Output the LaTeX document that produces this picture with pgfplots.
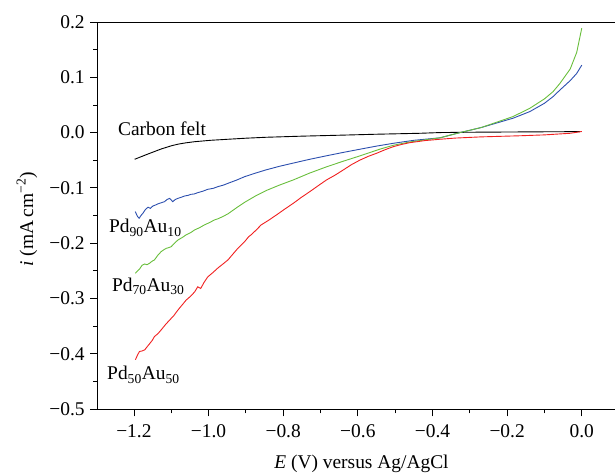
\documentclass[border=0pt]{standalone}
\usepackage{pgfplots}
\pgfplotsset{compat=1.18}
\usepackage{fontspec}
\setmainfont{Liberation Serif}
\definecolor{cblue}{HTML}{2C4FAE}
\definecolor{cgreen}{HTML}{69BE3C}
\definecolor{cred}{HTML}{F02020}
\newcommand{\fs}{\fontsize{19.5}{22}\selectfont}
\begin{document}
\begin{tikzpicture}
\begin{axis}[
  name=ax,
  scale only axis,
  width=517.3bp, height=387bp,
  xmin=-1.297, xmax=0.089,
  ymin=-0.5, ymax=0.2,
  axis x line*=box, axis y line*=left,
  xtick pos=bottom, ytick pos=left,
  tick align=outside,
  major tick length=7.5bp, minor tick length=4.5bp,
  xtick={-1.2,-1.0,-0.8,-0.6,-0.4,-0.2,0},
  xticklabels={−1.2,−1.0,−0.8,−0.6,−0.4,−0.2,0.0},
  minor xtick={-1.1,-0.9,-0.7,-0.5,-0.3,-0.1},
  ytick={-0.5,-0.4,-0.3,-0.2,-0.1,0,0.1,0.2},
  yticklabels={−0.5,−0.4,−0.3,−0.2,−0.1,0.0,0.1,0.2},
  minor ytick={-0.45,-0.35,-0.25,-0.15,-0.05,0.05,0.15},
  tick style={black, line width=0.8bp},
  axis line style={black, line width=0.9bp},
  ticklabel style={font=\fs},
  xticklabel style={yshift=-5bp},
  yticklabel style={xshift=-2bp},
  label style={font=\fs},
  xlabel={\textit{E} (V) versus Ag/AgCl},
  xlabel style={at={(axis description cs:0.51,-0.153)}, anchor=base},
  ylabel={\textit{i} (mA\,cm\textsuperscript{−2})},
  ylabel style={at={(axis description cs:-0.137,0.49)}, anchor=center},
  every axis plot/.append style={line width=0.9bp},
  clip=false,
]
% Carbon felt
\addplot[black] coordinates {
(-1.198,-0.0483) (-1.162,-0.0387) (-1.127,-0.0297) (-1.100,-0.0240) (-1.082,-0.0210) (-1.060,-0.0185) (-1.037,-0.0165)
(-0.995,-0.0140) (-0.948,-0.0121) (-0.900,-0.0102) (-0.846,-0.0085) (-0.75,-0.0065) (-0.65,-0.0048) (-0.55,-0.0030)
(-0.434,-0.0013) (-0.38,0.0) (-0.3,0.0006) (-0.2,0.0010) (-0.1,0.0014) (-0.005,0.0017)};
% Pd90Au10
\addplot[cblue] coordinates {
(-1.1965,-0.143) (-1.190,-0.152) (-1.186,-0.155) (-1.181,-0.150) (-1.176,-0.146) (-1.169,-0.139)
(-1.162,-0.135) (-1.156,-0.137) (-1.149,-0.1328) (-1.142,-0.131) (-1.136,-0.129) (-1.127,-0.127)
(-1.118,-0.125) (-1.111,-0.121) (-1.104,-0.119) (-1.096,-0.125) (-1.089,-0.121) (-1.082,-0.119)
(-1.073,-0.117) (-1.064,-0.1147) (-1.055,-0.1136) (-1.047,-0.1117) (-1.038,-0.111) (-1.029,-0.1087)
(-1.015,-0.106) (-1.002,-0.1026) (-0.988,-0.101) (-0.975,-0.0978) (-0.960,-0.095) (-0.948,-0.0918)
(-0.925,-0.086) (-0.903,-0.0797) (-0.875,-0.0735) (-0.846,-0.0675) (-0.81,-0.061) (-0.773,-0.0552)
(-0.73,-0.0485) (-0.684,-0.0420) (-0.64,-0.0360) (-0.595,-0.0302) (-0.55,-0.0245) (-0.505,-0.0194)
(-0.45,-0.0140) (-0.38,-0.0095) (-0.326,0.0) (-0.27,0.009) (-0.184,0.026) (-0.139,0.038)
(-0.1,0.053) (-0.077,0.065) (-0.0585,0.077) (-0.031,0.094) (-0.0136,0.107) (0,0.122)};
% Pd70Au30
\addplot[cgreen] coordinates {
(-1.196,-0.2545) (-1.190,-0.250) (-1.185,-0.247) (-1.178,-0.240) (-1.171,-0.2377) (-1.165,-0.239)
(-1.158,-0.2364) (-1.152,-0.233) (-1.145,-0.2304) (-1.136,-0.222) (-1.127,-0.2154) (-1.120,-0.212)
(-1.113,-0.2093) (-1.106,-0.208) (-1.1,-0.2064) (-1.091,-0.200) (-1.082,-0.1943) (-1.071,-0.190)
(-1.06,-0.185) (-1.048,-0.181) (-1.037,-0.176) (-1.024,-0.172) (-1.011,-0.167) (-0.998,-0.163)
(-0.984,-0.158) (-0.975,-0.156) (-0.962,-0.152) (-0.948,-0.147) (-0.925,-0.136) (-0.903,-0.126)
(-0.875,-0.115) (-0.846,-0.105) (-0.81,-0.095) (-0.773,-0.0857) (-0.73,-0.0735) (-0.684,-0.0620)
(-0.64,-0.0520) (-0.595,-0.0423) (-0.541,-0.0300) (-0.505,-0.0230) (-0.461,-0.0170) (-0.38,-0.0095)
(-0.326,0.0) (-0.27,0.009) (-0.184,0.029) (-0.139,0.044) (-0.1,0.061) (-0.077,0.074)
(-0.0585,0.089) (-0.031,0.115) (-0.0136,0.145) (0,0.189)};
% Pd50Au50
\addplot[cred] coordinates {
(-1.196,-0.411) (-1.190,-0.402) (-1.185,-0.396) (-1.178,-0.395) (-1.171,-0.393) (-1.164,-0.387)
(-1.158,-0.382) (-1.151,-0.376) (-1.145,-0.369) (-1.136,-0.364) (-1.127,-0.357) (-1.115,-0.347)
(-1.104,-0.339) (-1.093,-0.331) (-1.082,-0.321) (-1.071,-0.312) (-1.06,-0.303) (-1.048,-0.296)
(-1.037,-0.288) (-1.029,-0.279) (-1.021,-0.282) (-1.012,-0.271) (-1.002,-0.261) (-0.988,-0.253)
(-0.975,-0.245) (-0.962,-0.238) (-0.948,-0.2304) (-0.935,-0.220) (-0.921,-0.209) (-0.903,-0.197)
(-0.892,-0.188) (-0.886,-0.185) (-0.872,-0.176) (-0.859,-0.167) (-0.84,-0.159) (-0.818,-0.149)
(-0.795,-0.138) (-0.773,-0.128) (-0.751,-0.117) (-0.729,-0.107) (-0.706,-0.096) (-0.684,-0.0857)
(-0.661,-0.077) (-0.639,-0.0676) (-0.617,-0.058) (-0.595,-0.0500) (-0.572,-0.0430) (-0.55,-0.0375) (-0.527,-0.0310) (-0.505,-0.0255)
(-0.483,-0.0215) (-0.461,-0.0183) (-0.42,-0.0145) (-0.38,-0.0121) (-0.34,-0.0100) (-0.27,-0.0078) (-0.166,-0.0058) (-0.1,-0.0042)
(-0.0315,-0.0013) (-0.0136,0.0005) (0,0.002)};
\node[font=\fs, anchor=base west, inner sep=0pt] at (axis cs:-1.243,-0.005) {Carbon felt};
\node[font=\fs, anchor=base west, inner sep=0pt] at (axis cs:-1.267,-0.1816) {Pd\textsubscript{90}Au\textsubscript{10}};
\node[font=\fs, anchor=base west, inner sep=0pt] at (axis cs:-1.259,-0.288) {Pd\textsubscript{70}Au\textsubscript{30}};
\node[font=\fs, anchor=base west, inner sep=0pt] at (axis cs:-1.272,-0.4475) {Pd\textsubscript{50}Au\textsubscript{50}};
\end{axis}
\pgfresetboundingbox
\path[use as bounding box] ([shift={(-97.7bp,-66bp)}]ax.south west) rectangle ([shift={(0bp,22bp)}]ax.north east);
\end{tikzpicture}
\end{document}
